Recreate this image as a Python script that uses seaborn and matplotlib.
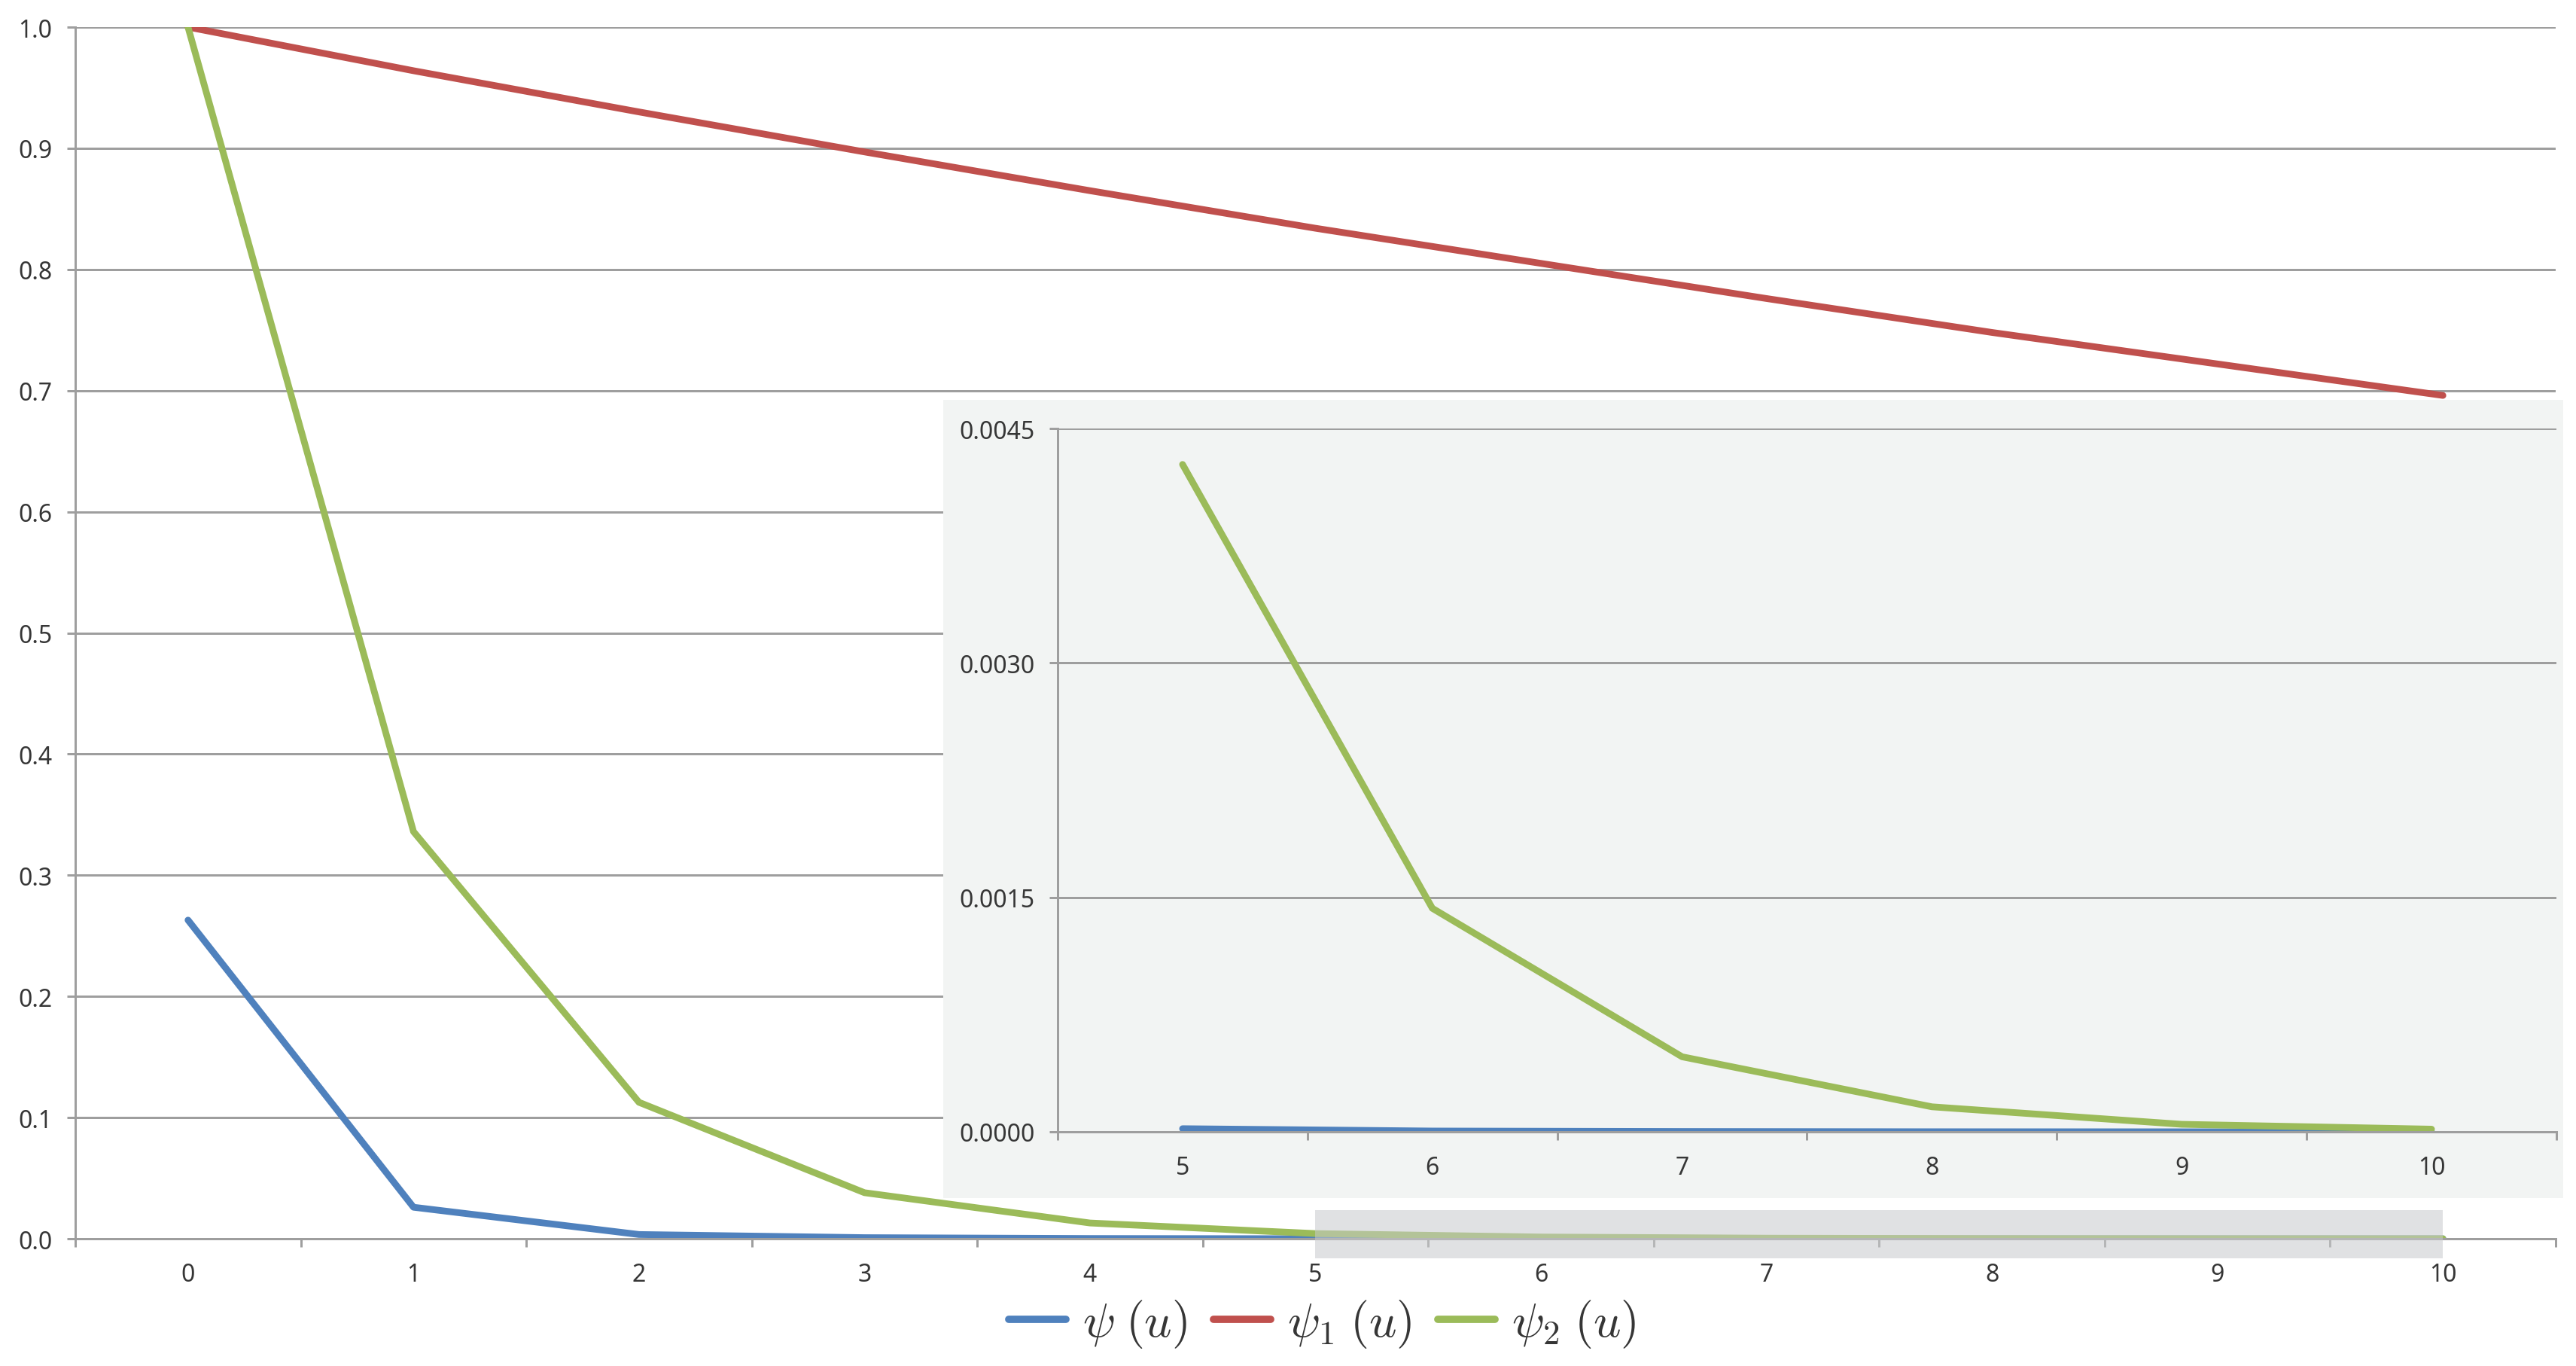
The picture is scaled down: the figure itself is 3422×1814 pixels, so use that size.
import numpy as np
import pandas as pd
import matplotlib
matplotlib.use("Agg")
import matplotlib.pyplot as plt
from matplotlib.patches import Rectangle
from matplotlib.ticker import FormatStrFormatter, FixedLocator
import seaborn as sns

# ---------------- data ----------------
u = [0, 1, 2, 3, 4, 5, 6, 7, 8, 9, 10]
psi = [0.263, 0.026, 0.0035, 0.0009, 0.0002, 0.00002, 0.000005, 0.000002,
       0.0000005, 0.0000001, 0.00000003]
psi1 = [1.0, 0.964, 0.930, 0.897, 0.865, 0.834, 0.805, 0.776, 0.748, 0.722, 0.696]
psi2 = [1.0, 0.336, 0.1126, 0.038, 0.013, 0.00427, 0.00143, 0.00048, 0.00016,
        0.000048, 0.000017]
labels = [r"$\psi\;(u)$", r"$\psi_1\;(u)$", r"$\psi_2\;(u)$"]
colors = ["#4F81BD", "#C0504D", "#9BBB59"]
inset_start = 5

sns.set_theme(style="white")
plt.rcParams["font.family"] = ["Noto Sans", "DejaVu Sans"]
plt.rcParams["mathtext.fontset"] = "cm"

GRID = "#9E9E9E"
TXT = "#363636"
LW = 3.2
GLW = 1.08
TL = 4.0
FS = 11.5

fig = plt.figure(figsize=(17.11, 9.075), dpi=200)
fig.patch.set_facecolor("white")

ax = fig.add_axes([0.02922, 0.09311, 0.96289, 0.88650])
ax.set_zorder(0)
ax.set_facecolor("white")

series = [psi, psi1, psi2]
for vals, lab, col in zip(series, labels, colors):
    df = pd.DataFrame({"u": u, "v": vals})
    sns.lineplot(data=df, x="u", y="v", ax=ax, color=col, linewidth=LW,
                 label=lab, solid_capstyle="round", solid_joinstyle="round",
                 legend=False)

ax.set_xlim(-0.5, 10.5)
ax.set_ylim(0, 1.0)
ax.set_xlabel("")
ax.set_ylabel("")
ax.set_yticks(np.arange(0, 1.01, 0.1))
ax.yaxis.set_major_formatter(FormatStrFormatter("%.1f"))
ax.set_xticks(u)
ax.xaxis.set_minor_locator(FixedLocator(np.arange(-0.5, 10.6, 1.0)))
ax.yaxis.grid(True, color=GRID, linewidth=GLW)
ax.xaxis.grid(False)
ax.set_axisbelow(True)
for s in ["top", "right"]:
    ax.spines[s].set_visible(False)
for s in ["left", "bottom"]:
    ax.spines[s].set_color(GRID)
    ax.spines[s].set_linewidth(GLW)
ax.tick_params(axis="y", which="major", length=TL, width=GLW, color=GRID,
               labelsize=FS, labelcolor=TXT, pad=7, left=True)
ax.tick_params(axis="x", which="major", length=0, labelsize=FS,
               labelcolor=TXT, pad=7 + TL)
ax.tick_params(axis="x", which="minor", length=TL, width=GLW, color=GRID,
               bottom=True)

# highlight of the zoomed region
hl = Rectangle((inset_start, -0.016), u[-1] - inset_start, 0.0396,
               facecolor=(200/255, 202/255, 205/255), alpha=0.55,
               edgecolor="none", clip_on=False, zorder=5)
ax.add_patch(hl)

# inset background
bg = Rectangle((0.36616, 0.12287), 0.62887, 0.58402, transform=fig.transFigure,
               facecolor="#F2F4F3", edgecolor="none", zorder=1)
fig.patches.append(bg)

axi = fig.add_axes([0.41058, 0.17135, 0.58182, 0.51460])
axi.set_zorder(2)
axi.set_facecolor("#F2F4F3")
ui = u[inset_start:]
for vals, col in zip(series, colors):
    vi = vals[inset_start:]
    if max(vi) > 0.0045:
        continue
    df = pd.DataFrame({"u": ui, "v": vi})
    sns.lineplot(data=df, x="u", y="v", ax=axi, color=col, linewidth=LW,
                 solid_capstyle="round", solid_joinstyle="round", legend=False)
axi.set_xlim(4.5, 10.5)
axi.set_ylim(0, 0.0045)
axi.set_xlabel("")
axi.set_ylabel("")
axi.set_yticks([0, 0.0015, 0.0030, 0.0045])
axi.yaxis.set_major_formatter(FormatStrFormatter("%.4f"))
axi.set_xticks(ui)
axi.xaxis.set_minor_locator(FixedLocator(np.arange(4.5, 10.6, 1.0)))
axi.yaxis.grid(True, color=GRID, linewidth=GLW)
axi.xaxis.grid(False)
axi.set_axisbelow(True)
for s in ["top", "right"]:
    axi.spines[s].set_visible(False)
for s in ["left", "bottom"]:
    axi.spines[s].set_color(GRID)
    axi.spines[s].set_linewidth(GLW)
axi.tick_params(axis="y", which="major", length=TL, width=GLW, color=GRID,
                labelsize=FS, labelcolor=TXT, pad=7, left=True)
axi.tick_params(axis="x", which="major", length=0, labelsize=FS,
                labelcolor=TXT, pad=7 + TL)
axi.tick_params(axis="x", which="minor", length=TL, width=GLW, color=GRID,
                bottom=True)

handles = ax.get_lines()[:3]
leg = fig.legend(handles, labels, loc="center", bbox_to_anchor=(0.5134, 0.031),
                 ncol=3, frameon=False, fontsize=23, handlelength=1.19,
                 handletextpad=0.34, columnspacing=0.55, labelcolor=TXT)
for h in leg.legend_handles:
    h.set_linewidth(LW * 1.1)
    h.set_solid_capstyle("round")

fig.savefig("out.png", dpi=200, facecolor="white")
